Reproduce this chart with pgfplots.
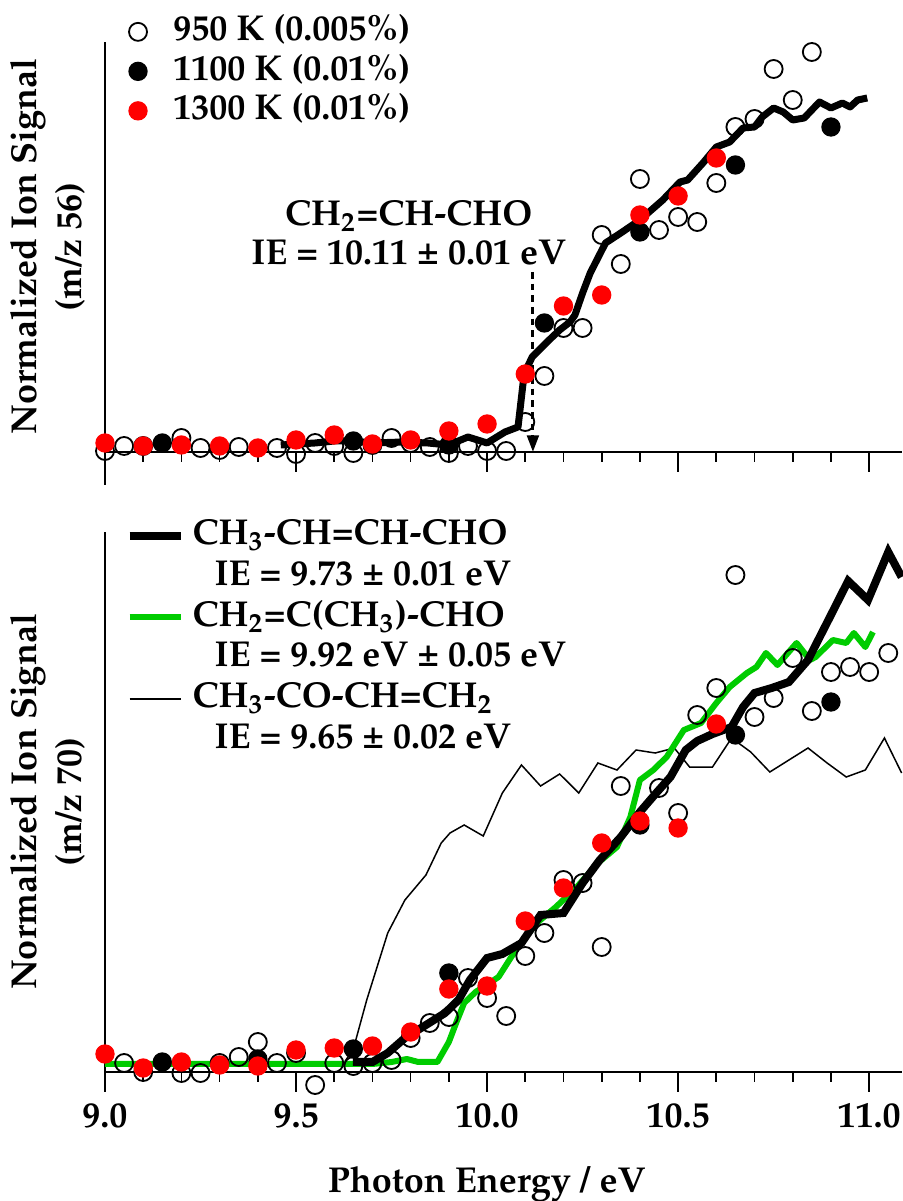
\documentclass[border=0pt]{standalone}
\usepackage[T1]{fontenc}
\usepackage{mathpazo}
\usepackage{pgfplots}
\pgfplotsset{compat=1.18}
\usetikzlibrary{arrows.meta}
\definecolor{pgreen}{RGB}{0,204,0}
\definecolor{pred}{RGB}{255,0,0}
\newcommand{\lfont}{\bfseries\fontsize{10.8}{12}\selectfont}

\pgfplotstableread{
x y
9.00 1
9.05 6
9.10 6
9.20 14
9.25 4
9.30 2
9.35 5
9.45 4
9.50 -2
9.55 9
9.60 6
9.65 -1
9.70 7
9.75 14
9.80 9
9.85 5
9.90 -1
9.95 6
10.00 1
10.05 1
10.10 30
10.15 76
10.20 124
10.25 124
10.30 217
10.35 188
10.40 273
10.45 222
10.50 235
10.55 230
10.60 269
10.65 325
10.70 333
10.75 383
10.80 352
10.85 400
}\topopen
\pgfplotstableread{
x y
9.15 9
9.65 11
9.90 7
10.15 129
10.40 220
10.65 287
10.90 325
}\topblack
\pgfplotstableread{
x y
9.00 9
9.10 6
9.20 7
9.30 6
9.40 4
9.50 12
9.60 17
9.70 8
9.80 12
9.90 21
10.00 28
10.10 78
10.20 146
10.30 157
10.40 237
10.50 256
10.60 294
}\topred
\pgfplotstableread{
x y
9.46 7
9.55 9
9.60 11
9.65 11
9.70 9
9.78 10
9.845 9
9.90 7
9.95 15
10.00 9
10.047 20
10.081 25
10.097 78
10.118 95
10.157 110
10.19 122
10.217 130
10.23 137
10.25 159
10.27 179
10.31 209
10.35 219
10.40 232
10.46 252
10.505 270
10.525 272
10.565 289
10.60 305
10.635 310
10.67 324
10.70 325
10.72 335
10.75 344
10.775 340
10.80 332
10.83 334
10.87 350
10.90 344
10.93 349
10.95 345
10.97 352
10.995 354
}\topline

\pgfplotstableread{
x y
9.05 9
9.10 0
9.20 -1
9.25 -1
9.30 9
9.35 15
9.40 30
9.45 9
9.50 19
9.55 -13
9.60 9
9.65 6
9.70 9
9.75 12
9.80 34
9.85 49
9.90 55
9.95 94
10.00 74
10.05 56
10.10 116
10.15 139
10.20 192
10.25 189
10.30 125
10.35 286
10.45 284
10.50 259
10.55 357
10.60 384
10.65 497
10.70 355
10.75 374
10.80 414
10.85 361
10.90 400
10.95 405
11.00 400
11.05 419
}\botopen
\pgfplotstableread{
x y
9.15 10
9.40 13
9.65 23
9.90 99
10.40 247
10.65 337
10.90 370
}\botblack
\pgfplotstableread{
x y
9.00 18
9.10 4
9.20 10
9.30 7
9.40 6
9.50 22
9.60 24
9.70 26
9.80 40
9.90 83
10.00 86
10.10 151
10.20 184
10.30 229
10.40 251
10.50 244
10.60 348
}\botred
\pgfplotstableread{
x y
9.649 10
9.70 10
9.74 19
9.785 34
9.84 47
9.89 59
9.925 72
9.955 92
10.00 114
10.04 118
10.09 129
10.14 157
10.20 159
10.25 189
10.295 212
10.35 235
10.40 260
10.445 280
10.48 295
10.52 322
10.55 331
10.59 338
10.64 345
10.67 365
10.70 379
10.745 384
10.79 390
10.84 412
10.90 457
10.945 491
10.997 472
11.05 520
11.085 495
}\botthick
\pgfplotstableread{
x y
9.00 8
9.30 8
9.50 8
9.70 8
9.75 10
9.79 13
9.82 10
9.87 10
9.90 30
9.92 50
9.94 69
9.97 80
10.03 95
10.08 125
10.13 149
10.18 165
10.235 185
10.29 209
10.34 225
10.375 255
10.40 292
10.435 302
10.47 315
10.515 342
10.56 349
10.60 369
10.635 385
10.68 399
10.705 405
10.73 419
10.76 407
10.81 429
10.845 412
10.86 415
10.905 432
10.94 429
10.96 439
10.99 425
11.01 440
}\botgreen
\pgfplotstableread{
x y
9.00 8
9.45 8
9.55 6
9.62 6
9.65 23
9.685 72
9.74 139
9.785 172
9.84 197
9.88 229
9.903 239
9.94 247
9.99 236
10.04 279
10.09 307
10.14 286
10.19 298
10.24 279
10.29 309
10.34 302
10.39 322
10.44 319
10.49 324
10.53 305
10.59 305
10.64 334
10.69 320
10.74 300
10.79 312
10.84 324
10.89 309
10.94 295
10.99 302
11.04 334
11.085 299
}\botthin

\begin{document}
\begin{tikzpicture}[font=\lfont]
\pgfplotsset{
  myaxis/.style={
    scale only axis, width=239.1pt, xmin=9, xmax=11.086, ymin=0,
    axis lines=left, axis line style={-, line width=0.5pt},
    xtick={9,9.5,10,10.5,11}, minor x tick num=4,
    ytick=\empty, tick align=outside,
    major tick length=6pt, minor tick length=3pt,
    tick style={line width=0.5pt, black},
    clip=false,
    /pgf/number format/assume math mode=true,
    xticklabel style={font=\lfont, /pgf/number format/fixed, /pgf/number format/fixed zerofill, /pgf/number format/precision=1},
    every axis y label/.style={at={(axis description cs:0,0.5)}, rotate=90, anchor=south, align=center, inner sep=0pt, outer sep=6pt, font=\bfseries\fontsize{10.8}{13.5}\selectfont},
    legend cell align=left,
    openm/.style={only marks, mark=o, mark size=2.7pt, mark options={draw=black, line width=0.55pt}},
    blackm/.style={only marks, mark=*, mark size=2.7pt, mark options={draw=black, fill=black}},
    redm/.style={only marks, mark=*, mark size=2.7pt, mark options={draw=pred, fill=pred}},
  }
}
% bottom panel
\begin{axis}[myaxis, name=bot, at={(0,0)}, anchor=south west,
  height=162pt, ymax=540,
  ylabel={Normalized Ion Signal\\(m/z 70)},
  xlabel={Photon Energy / eV},
  xlabel style={at={(axis description cs:0.479,0)}, anchor=base, yshift=-36pt, font=\lfont},
  legend image code/.code={\draw[#1] (0pt,0pt) -- (15.3pt,0pt);},
  legend style={at={(axis description cs:0.025,1.025)}, anchor=north west, draw=none, fill=none, inner sep=0pt,
    nodes={inner sep=0pt, text height=7.6pt, text depth=2.4pt}, column sep=2.4pt, row sep=2.24pt, font=\lfont},
]
\addlegendimage{black, line width=2.4pt}
\addlegendentry{CH\textsubscript{3}-CH=CH-CHO}
\addlegendimage{empty legend}
\addlegendentry{\hspace{6.6pt}IE = 9.73 \textpm{} 0.01 eV}
\addlegendimage{pgreen, line width=1.8pt}
\addlegendentry{CH\textsubscript{2}=C(CH\textsubscript{3})-CHO}
\addlegendimage{empty legend}
\addlegendentry{\hspace{6.6pt}IE = 9.92 eV \textpm{} 0.05 eV}
\addlegendimage{black, line width=0.45pt}
\addlegendentry{CH\textsubscript{3}-CO-CH=CH\textsubscript{2}}
\addlegendimage{empty legend}
\addlegendentry{\hspace{6.6pt}IE = 9.65 \textpm{} 0.02 eV}
\addplot[forget plot, black, line width=0.45pt, line join=miter] table {\botthin};
\addplot[forget plot, pgreen, line width=1.8pt, line join=round] table {\botgreen};
\addplot[forget plot, black, line width=2.4pt, line join=miter] table {\botthick};
\addplot[forget plot, openm] table {\botopen};
\addplot[forget plot, blackm] table {\botblack};
\addplot[forget plot, redm] table {\botred};
\end{axis}
% top panel
\begin{axis}[myaxis, name=top, at={(0,186pt)}, anchor=south west,
  height=123pt, ymax=410,
  xticklabels={},
  extra x ticks={9}, extra x tick labels={}, extra x tick style={major tick length=9.9pt},
  ylabel={Normalized Ion Signal\\(m/z 56)},
  legend image code/.code={\draw[mark repeat=2, mark phase=2, #1] plot coordinates {(0pt,0pt) (5pt,0pt) (10pt,0pt)};},
  legend style={at={(axis description cs:0.0293,1.067)}, anchor=north west, draw=none, fill=none, inner sep=0pt,
    nodes={inner sep=0pt, text height=7.6pt, text depth=2.4pt}, column sep=7.9pt, row sep=1.85pt, font=\lfont},
]
\addplot[forget plot, black, line width=2.1pt, line join=round] table {\topline};
\addplot[openm] table {\topopen};
\addlegendentry{950 K (0.005\%)}
\addplot[blackm] table {\topblack};
\addlegendentry{1100 K (0.01\%)}
\addplot[redm] table {\topred};
\addlegendentry{1300 K (0.01\%)}
\node[align=center, font=\bfseries\fontsize{10.8}{11.7}\selectfont] at (axis cs:9.795,219.5)
  {CH\textsubscript{2}=CH-CHO\\IE = 10.11 \textpm{} 0.01 eV};
\draw[line width=0.9pt, dash pattern=on 2pt off 1.5pt, -{Triangle[length=5pt, width=3.5pt]}]
  (axis cs:10.12,180) -- (axis cs:10.12,0);
\end{axis}
\pgfresetboundingbox
\useasboundingbox (-31.5pt,-38.7pt) rectangle (239.1pt,321.6pt);
\end{tikzpicture}
\end{document}
